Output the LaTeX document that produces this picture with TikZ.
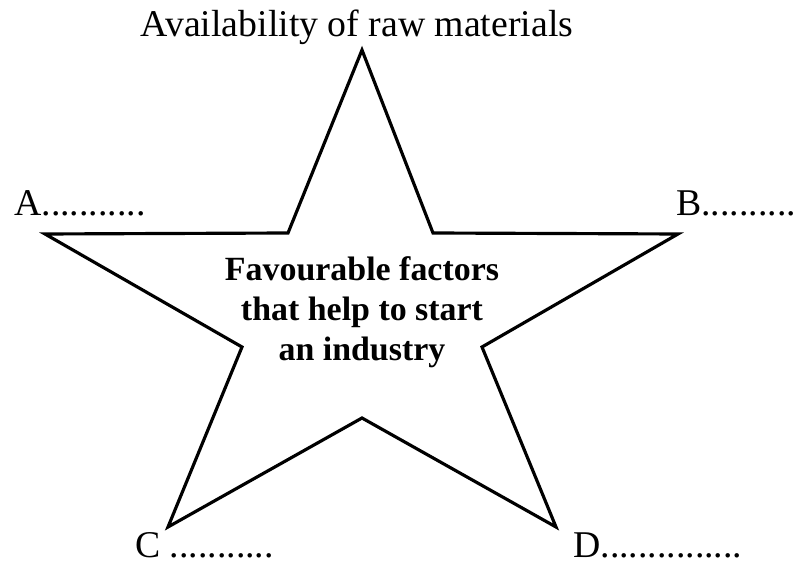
\documentclass[tikz,border=0pt]{standalone}
\usepackage{fontspec}
\setmainfont{Liberation Serif}
\usetikzlibrary{positioning}

\begin{document}
\begin{tikzpicture}[
      x=0.02cm, y=-0.02cm,
      starline/.style={line width=1.8pt, line join=miter, draw=black},
      tiplabel/.style={inner sep=0pt, font=\fontsize{21.5}{24}\selectfont},
      centrelabel/.style={align=center, inner sep=0pt, font=\bfseries\fontsize{19.3}{22.7}\selectfont}
    ]
      \useasboundingbox (0,0) rectangle (802,563);

      % Star points
      \coordinate (top) at (362,50);
      \coordinate (innerTR) at (433,233);
      \coordinate (right) at (678,234);
      \coordinate (innerR) at (482,347);
      \coordinate (botR) at (556,527);
      \coordinate (innerB) at (362,418);
      \coordinate (botL) at (168,527);
      \coordinate (innerL) at (242,347);
      \coordinate (left) at (45,234);
      \coordinate (innerTL) at (288,233);

      % Star
      \draw[starline] (top) -- (innerTR) -- (right) -- (innerR) -- (botR) -- (innerB)
        -- (botL) -- (innerL) -- (left) -- (innerTL) -- cycle;

      % Labels
      \node[tiplabel] (raw) at (357,27) {Availability of raw materials};
      \node[tiplabel, anchor=west] (labA) at (14,203) {A...........};
      \node[tiplabel, anchor=west] (labB) at (676,203) {B..........};
      \node[tiplabel, anchor=west] (labC) at (135,545) {C ...........};
      \node[tiplabel, anchor=west] (labD) at (573,545) {D...............};

      \node[centrelabel] (factors) at (362,312) {Favourable factors\\that help to start\\an industry};
    \end{tikzpicture}
\end{document}
